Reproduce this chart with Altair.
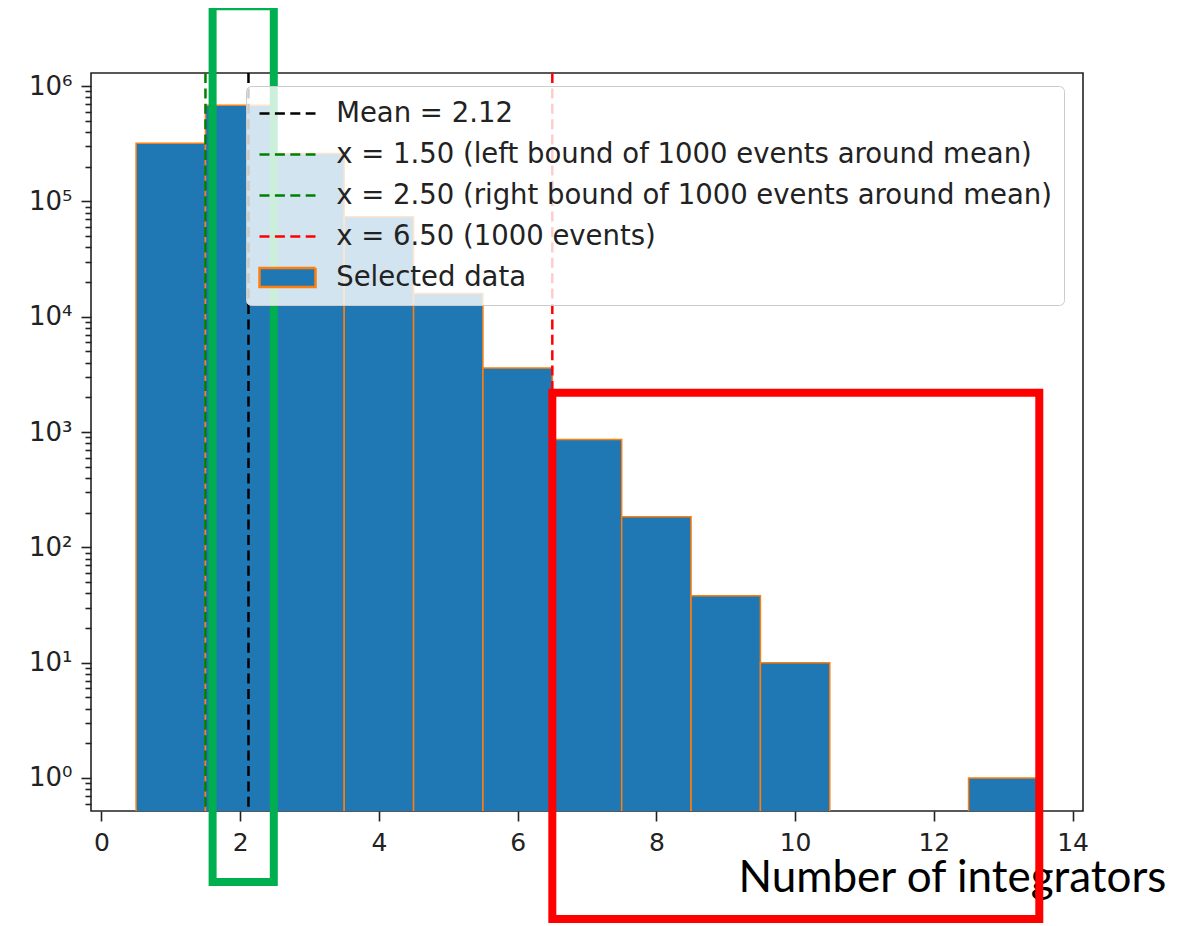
import json
import altair as alt
import pandas as pd

# ---------------- data ----------------
bin_starts = [0.5, 1.5, 2.5, 3.5, 4.5, 5.5, 6.5, 7.5, 8.5, 9.5, 10.5, 11.5, 12.5]
bin_ends = [1.5, 2.5, 3.5, 4.5, 5.5, 6.5, 7.5, 8.5, 9.5, 10.5, 11.5, 12.5, 13.5]
counts = [319000, 684000, 260000, 73500, 15900, 3600, 863, 184, 38, 10, 0, 0, 1]
bar_label = "Selected data"

line_x = [2.12, 1.50, 2.50, 6.50]
line_labels = [
    "Mean = 2.12",
    "x = 1.50 (left bound of 1000 events around mean)",
    "x = 2.50 (right bound of 1000 events around mean)",
    "x = 6.50 (1000 events)",
]
line_colors = ["#000000", "#008000", "#008000", "#ff0000"]
bar_fill = "#1f77b4"
bar_edge = "#ff7f0e"

x_ticks = [0, 2, 4, 6, 8, 10, 12, 14]
y_major = [1, 10, 100, 1000, 10000, 100000, 1000000]
y_major_labels = ["10⁰", "10¹", "10²", "10³", "10⁴", "10⁵", "10⁶"]
y_minor_mult = [2, 3, 4, 5, 6, 7, 8, 9]
y_low_minor = [0.6, 0.7, 0.8, 0.9]

# highlight boxes drawn over the figure (in data units)
box_x1 = [1.603, 6.5]
box_x2 = [2.485, 13.52]
box_y1 = [0.125, 0.0598]
box_y2 = [4.94e6, 2190]
box_colors = ["#00b050", "#ff0000"]

x_title = "Number of integrators"

# ---------------- tables ----------------
bar_df = pd.DataFrame({"start": bin_starts, "end": bin_ends, "count": counts,
                       "series": [bar_label] * len(counts)})
line_df = pd.DataFrame({"x": line_x, "label": line_labels})
box_df = pd.DataFrame({"x1": box_x1, "x2": box_x2, "y1": box_y1, "y2": box_y2,
                       "color": box_colors})

y_ticks = list(y_low_minor)
for m in y_major[:-1]:
    y_ticks.append(m)
    y_ticks.extend([m * k for k in y_minor_mult])
y_ticks.append(y_major[-1])

majors_js = json.dumps(y_major)
labels_js = json.dumps(y_major_labels, ensure_ascii=False)
major_test = f"indexof({majors_js}, datum.value) >= 0"
label_expr = (f"indexof({majors_js}, datum.value) >= 0 ? "
              f"{labels_js}[indexof({majors_js}, datum.value)] : ''")

# ---------------- scales / axes / legend ----------------
all_labels = line_labels + [bar_label]
line_path = "M-2,0H2"
patch_path = "M-2,-0.68H2V0.68H-2Z"

x_scale = alt.Scale(domain=[-0.15, 14.15], nice=False, zero=False)
y_scale = alt.Scale(type="log", domain=[0.517, 1.3e6], nice=False)
fill_scale = alt.Scale(domain=all_labels, range=["transparent"] * 4 + [bar_fill])
stroke_scale = alt.Scale(domain=all_labels, range=line_colors + [bar_edge])
dash_scale = alt.Scale(domain=all_labels, range=[[10, 5.4]] * 4 + [[1, 0]])
shape_scale = alt.Scale(domain=all_labels, range=[line_path] * 4 + [patch_path])

x_axis = alt.Axis(values=x_ticks, format="d", tickSize=10, labelPadding=9,
                  title=x_title, titleFont="Lato", titleFontSize=44,
                  titleFontWeight="normal", titleColor="#000000",
                  titleX=647, titleY=80, titleAlign="left",
                  titleBaseline="alphabetic")
y_axis = alt.Axis(values=y_ticks, labelExpr=label_expr, title=None,
                  tickSize={"condition": {"test": major_test, "value": 10}, "value": 6},
                  labelPadding=9, labelFontSize=26)

legend = alt.Legend(
    orient="none", legendX=155, legendY=13, title=None,
    labelFont="DejaVu Sans", labelFontSize=27.5, labelColor="#222222", labelLimit=2000,
    fillColor="rgba(255,255,255,0.8)", strokeColor="#cccccc",
    cornerRadius=5, padding=12, rowPadding=12,
    symbolSize=784, symbolOffset=14, labelOffset=33.2,
    symbolStrokeWidth=2.5, symbolOpacity=1,
)

# ---------------- layers ----------------
bars = alt.Chart(bar_df).transform_filter("datum.count > 0").mark_rect(
    stroke=bar_edge, strokeWidth=1.5, clip=True
).encode(
    x=alt.X("start:Q", scale=x_scale, axis=x_axis),
    x2="end:Q",
    y=alt.Y("count:Q", scale=y_scale, axis=y_axis),
    y2=alt.datum(0.01),
    fill=alt.Fill("series:N", scale=fill_scale, legend=legend),
)

rules = alt.Chart(line_df).mark_rule(strokeWidth=2.5).encode(
    x=alt.X("x:Q", scale=x_scale, axis=x_axis),
    stroke=alt.Stroke("label:N", scale=stroke_scale, legend=legend),
    strokeDash=alt.StrokeDash("label:N", scale=dash_scale, legend=legend),
)

# point layer only carries the legend's symbol shapes; its points sit below the
# visible y range and are clipped away
shapes = alt.Chart(line_df).mark_point(clip=True).encode(
    x=alt.X("x:Q", scale=x_scale, axis=x_axis),
    y=alt.Y(datum=0.001, scale=y_scale, axis=y_axis),
    shape=alt.Shape("label:N", scale=shape_scale, legend=legend),
)

box_layers = []
for i, col in enumerate(box_colors):
    box_layers.append(
        alt.Chart(box_df.iloc[[i]]).mark_rect(
            filled=False, stroke=col, strokeWidth=8, clip=False
        ).encode(
            x=alt.X("x1:Q", scale=x_scale, axis=x_axis),
            x2="x2:Q",
            y=alt.Y("y1:Q", scale=y_scale, axis=y_axis),
            y2="y2:Q",
        )
    )

chart = alt.layer(bars, rules, shapes, *box_layers).properties(
    width=992, height=738,
    autosize=alt.AutoSizeParams(type="none"),
    padding={"left": 83, "top": 65, "right": 90, "bottom": 114},
).configure_view(
    stroke="#222222", strokeWidth=1.6
).configure_axis(
    labelFont="DejaVu Sans", labelFontSize=25, labelColor="#222222",
    tickColor="#222222", tickWidth=1.6, grid=False, domain=False,
)

chart.save("out.html", embed_options={"renderer": "svg", "actions": False})
